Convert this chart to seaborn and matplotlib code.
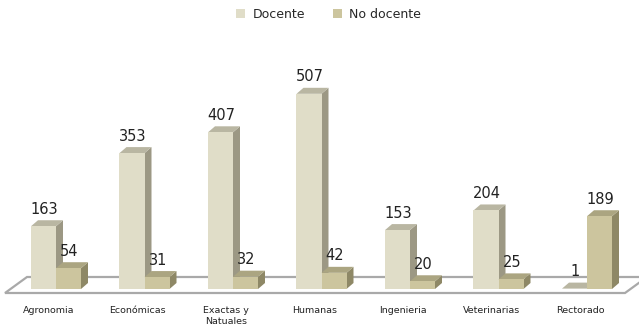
import matplotlib
matplotlib.use("Agg")
import matplotlib.pyplot as plt
from matplotlib.patches import Polygon, Patch
from matplotlib.transforms import ScaledTranslation, blended_transform_factory
import seaborn as sns
import pandas as pd

# Personal by faculty
facultades = ["Agronomia", "Económicas", "Exactas y\nNatuales", "Humanas",
              "Ingenieria", "Veterinarias", "Rectorado"]
docente = [163, 353, 407, 507, 153, 204, 1]
no_docente = [54, 31, 32, 42, 20, 25, 189]
series = ["Docente", "No docente"]

front_colors = {"Docente": "#E0DDC8", "No docente": "#CCC59E"}
top_colors = {"Docente": "#B9B6A2", "No docente": "#ABA581"}
side_colors = {"Docente": "#9C9884", "No docente": "#8E8866"}

df = pd.DataFrame({
    "Facultad": facultades * 2,
    "Tipo": [series[0]] * len(facultades) + [series[1]] * len(facultades),
    "Personal": docente + no_docente,
})

sns.set_theme(style="white")
plt.rcParams["font.family"] = ["DejaVu Sans"]

W, H, DPI = 639, 328, 100
fig = plt.figure(figsize=(W / DPI, H / DPI), dpi=DPI)
fig.patch.set_facecolor("white")

# axes geometry in pixels
left_px, width_px = 11.75, 619.5
base_px, height_px = 39.0, 269.5
YMAX = 700
ax = fig.add_axes([left_px / W, base_px / H, width_px / W, height_px / H])

sns.barplot(data=df, x="Facultad", y="Personal", hue="Tipo", order=facultades,
            hue_order=series, palette=front_colors, width=0.565, gap=0,
            saturation=1, legend=False, ax=ax, linewidth=0)

ax.set_xlim(-0.5, len(facultades) - 0.5)
ax.set_ylim(0, YMAX)
ax.set_axis_off()

# pixel -> data conversion
ux = (len(facultades)) / width_px
uy = YMAX / height_px

# floor plane
fx0, fx1 = -0.5 + (5 - left_px) * ux, -0.5 + (625 - left_px) * ux
fdx, fdy = 22 * ux, 16 * uy
fy = -4 * uy
floor = Polygon([(fx0, fy), (fx1, fy), (fx1 + fdx, fy + fdy), (fx0 + fdx, fy + fdy)],
                closed=True, facecolor="white", edgecolor="#A9A9A9",
                linewidth=1.6, zorder=0.5, clip_on=False)
ax.add_patch(floor)

# depth of bars
dx, dy = 7 * ux, 6 * uy

n = len(facultades)
for k, bar in enumerate(ax.patches[:2 * n]):
    tipo = series[k // n]
    z = 2 if tipo == "Docente" else 3
    x0, w, h = bar.get_x(), bar.get_width(), bar.get_height()
    side = Polygon([(x0 + w, 0), (x0 + w + dx, dy), (x0 + w + dx, h + dy), (x0 + w, h)],
                   closed=True, facecolor=side_colors[tipo], edgecolor="none", zorder=z)
    top = Polygon([(x0, h), (x0 + w, h), (x0 + w + dx, h + dy), (x0 + dx, h + dy)],
                  closed=True, facecolor=top_colors[tipo], edgecolor="none", zorder=z)
    ax.add_patch(side)
    ax.add_patch(top)
    bar.set_zorder(z + 0.1)
    ax.annotate(f"{int(round(h))}", (x0 + w / 2, h + dy),
                xytext=(0.5, 2.5), textcoords="offset points",
                ha="center", va="bottom", fontsize=10.5, color="#222222",
                zorder=5)

# category labels
trans = blended_transform_factory(ax.transData, ax.transAxes) + \
    ScaledTranslation(-7 / DPI, -17 / DPI, fig.dpi_scale_trans)
for i, name in enumerate(facultades):
    ax.text(i, 0, name, transform=trans, ha="center", va="top",
            fontsize=6.8, color="#222222", linespacing=1.35)

# legend
handles = [Patch(facecolor=front_colors[s], edgecolor="none") for s in series]
fig.legend(handles, series, loc="center", bbox_to_anchor=(0.514, 1 - 14 / H),
           ncol=2, frameon=False, fontsize=9, handlelength=0.75, handleheight=0.75,
           handletextpad=0.6, columnspacing=2.2)

fig.savefig("out.png", dpi=DPI, facecolor="white")
